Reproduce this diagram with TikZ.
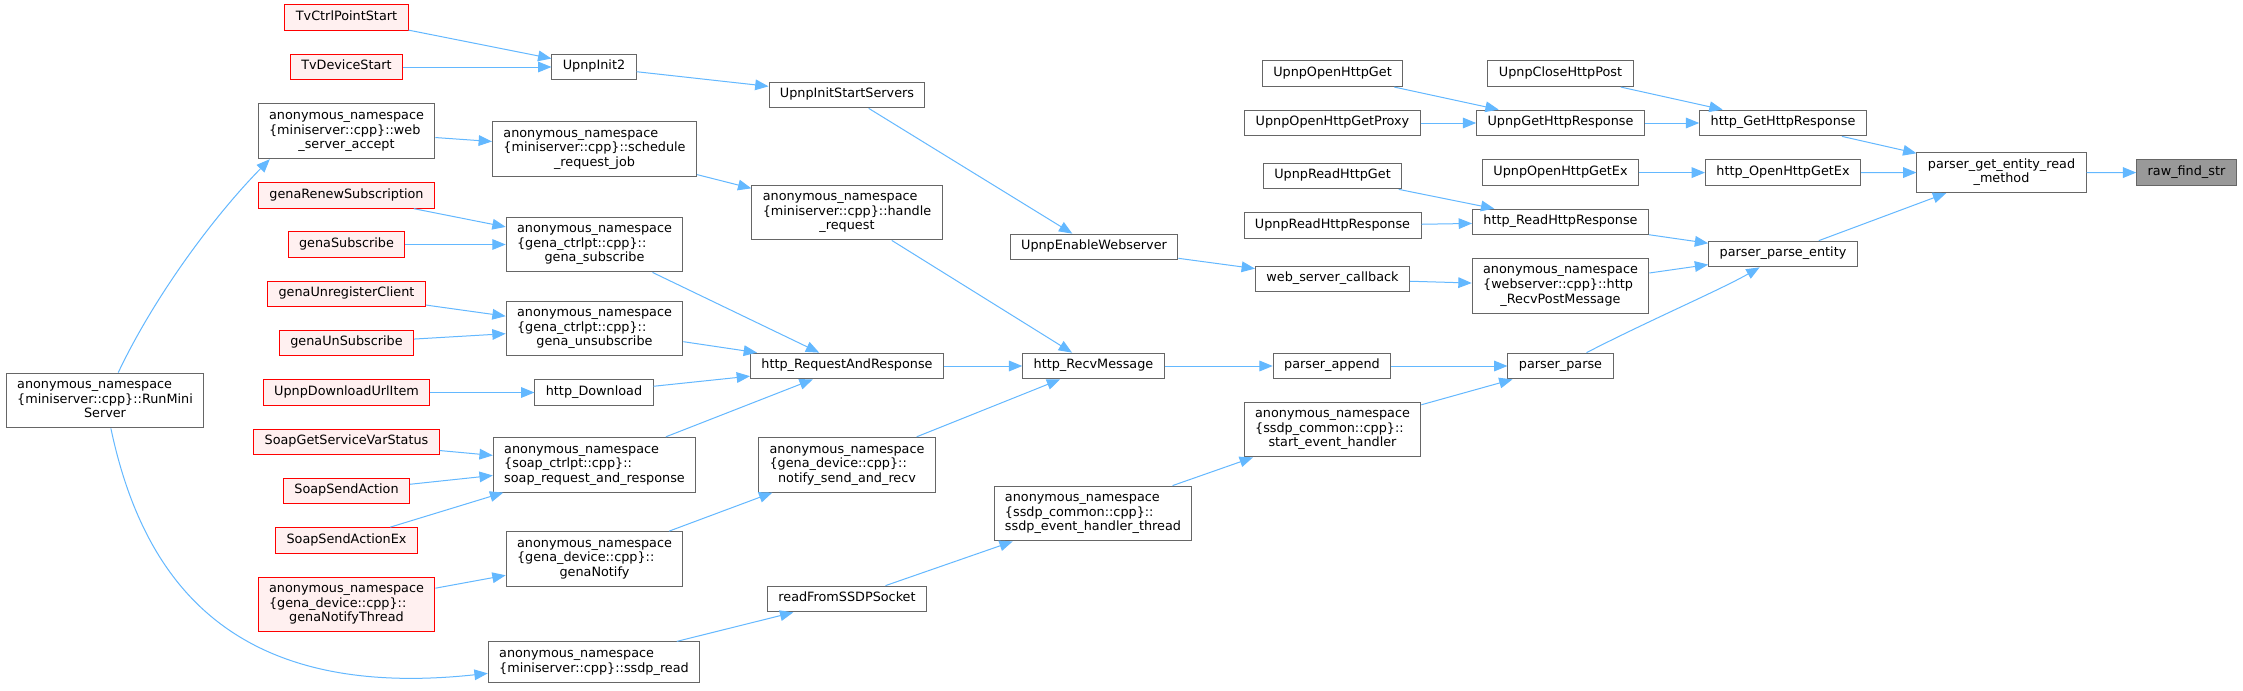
\documentclass[tikz,border=0pt]{standalone}
\usepackage{fontspec}
\setmainfont{DejaVu Sans}
\usetikzlibrary{arrows.meta}
\definecolor{edgeblue}{HTML}{63B8FF}
\definecolor{boxgray}{HTML}{666666}
\definecolor{redfill}{HTML}{FFF0F0}
\definecolor{curfill}{HTML}{999999}
\newcommand{\twolines}[2]{\begin{tabular}{@{}l@{}}#1\\\multicolumn{1}{@{}c@{}}{#2}\end{tabular}}
\newcommand{\threelines}[3]{\begin{tabular}{@{}l@{}}#1\\#2\\\multicolumn{1}{@{}c@{}}{#3}\end{tabular}}
\begin{document}
\begin{tikzpicture}[x=0.75pt,y=-0.75pt,
		fn/.style={draw=boxgray,fill=white,line width=0.75pt,inner xsep=8.2pt,inner ysep=4.2pt,
			font=\fontsize{9.6}{10.9}\selectfont,execute at begin node=\strut},
		fnred/.style={fn,draw=red,fill=redfill},
		fncur/.style={fn,fill=curfill},
		call/.style={draw=edgeblue,line width=0.75pt,-{Triangle[length=10pt,width=8pt]}}]
			\fill[white] (0,0) rectangle (2243,690);
			\useasboundingbox (0,0) rectangle (2243,690);
			\node[fn] (run) at (105,400.5) {\threelines{anonymous\_namespace}{\{miniserver::cpp\}::RunMini}{Server}};
			\node[fnred] (tvcp) at (346.5,17.8) {TvCtrlPointStart};
			\node[fnred] (tvds) at (346.5,67) {TvDeviceStart};
			\node[fn] (wsa) at (346.5,131.3) {\threelines{anonymous\_namespace}{\{miniserver::cpp\}::web}{\_server\_accept}};
			\node[fnred] (grs) at (346.5,195.3) {genaRenewSubscription};
			\node[fnred] (gsub) at (346.5,244.5) {genaSubscribe};
			\node[fnred] (gurc) at (346.5,294) {genaUnregisterClient};
			\node[fnred] (gunsub) at (346.5,343) {genaUnSubscribe};
			\node[fnred] (dlurl) at (346.5,392.5) {UpnpDownloadUrlItem};
			\node[fnred] (sgsvs) at (346.5,442) {SoapGetServiceVarStatus};
			\node[fnred] (ssa) at (346.5,491) {SoapSendAction};
			\node[fnred] (ssaex) at (346.5,540.5) {SoapSendActionEx};
			\node[fnred] (gnthread) at (346.5,604.5) {\threelines{anonymous\_namespace}{\{gena\_device::cpp\}::}{genaNotifyThread}};
			\node[fn] (init2) at (594,67) {UpnpInit2};
			\node[fn] (srj) at (594.5,148.7) {\threelines{anonymous\_namespace}{\{miniserver::cpp\}::schedule}{\_request\_job}};
			\node[fn] (gsubscribe) at (594.5,244.5) {\threelines{anonymous\_namespace}{\{gena\_ctrlpt::cpp\}::}{gena\_subscribe}};
			\node[fn] (gunsubscribe) at (594.5,328.5) {\threelines{anonymous\_namespace}{\{gena\_ctrlpt::cpp\}::}{gena\_unsubscribe}};
			\node[fn] (hdl) at (594,392.5) {http\_Download};
			\node[fn] (sra) at (594.5,464.7) {\threelines{anonymous\_namespace}{\{soap\_ctrlpt::cpp\}::}{soap\_request\_and\_response}};
			\node[fn] (gnotify) at (594.5,559) {\threelines{anonymous\_namespace}{\{gena\_device::cpp\}::}{genaNotify}};
			\node[fn] (sread) at (594,662) {\twolines{anonymous\_namespace}{\{miniserver::cpp\}::ssdp\_read}};
			\node[fn] (iss) at (847,95) {UpnpInitStartServers};
			\node[fn] (hreq) at (847,212.5) {\threelines{anonymous\_namespace}{\{miniserver::cpp\}::handle}{\_request}};
			\node[fn] (hrr) at (847,366) {http\_RequestAndResponse};
			\node[fn] (nsr) at (847,464.7) {\threelines{anonymous\_namespace}{\{gena\_device::cpp\}::}{notify\_send\_and\_recv}};
			\node[fn] (rfs) at (847,599) {readFromSSDPSocket};
			\node[fn] (enws) at (1094,247) {UpnpEnableWebserver};
			\node[fn] (hrm) at (1093.5,366) {http\_RecvMessage};
			\node[fn] (sehth) at (1093,513.5) {\threelines{anonymous\_namespace}{\{ssdp\_common::cpp\}::}{ssdp\_event\_handler\_thread}};
			\node[fn] (ohg) at (1332.5,73.7) {UpnpOpenHttpGet};
			\node[fn] (ohgp) at (1332.5,123) {UpnpOpenHttpGetProxy};
			\node[fn] (rhg) at (1332.5,176) {UpnpReadHttpGet};
			\node[fn] (rhr) at (1332.5,225.7) {UpnpReadHttpResponse};
			\node[fn] (wscb) at (1332.5,279) {web\_server\_callback};
			\node[fn] (pappend) at (1332,366) {parser\_append};
			\node[fn] (seh) at (1332.5,429.5) {\threelines{anonymous\_namespace}{\{ssdp\_common::cpp\}::}{start\_event\_handler}};
			\node[fn] (chp) at (1560.5,73.7) {UpnpCloseHttpPost};
			\node[fn] (ghr) at (1560.5,123) {UpnpGetHttpResponse};
			\node[fn] (ohgex) at (1560.5,172.6) {UpnpOpenHttpGetEx};
			\node[fn] (hreadr) at (1560.5,222) {http\_ReadHttpResponse};
			\node[fn] (rpm) at (1560.5,285.6) {\threelines{anonymous\_namespace}{\{webserver::cpp\}::http}{\_RecvPostMessage}};
			\node[fn] (pparse) at (1560.5,366) {parser\_parse};
			\node[fn] (hghr) at (1783,123) {http\_GetHttpResponse};
			\node[fn] (hohgex) at (1783,172.6) {http\_OpenHttpGetEx};
			\node[fn] (ppe) at (1783,254) {parser\_parse\_entity};
			\node[fn] (pgerm) at (2001.5,172.5) {\twolines{parser\_get\_entity\_read}{\_method}};
			\node[fncur] (rfstr) at (2186.5,172.6) {raw\_find\_str};
			\draw[call] (run) .. controls (155,295) and (215,215) .. (wsa.200);
			\draw[call] (run) .. controls (145,590) and (240,700) .. (sread);
			\draw[call] (tvcp) -- (init2);
			\draw[call] (tvds) -- (init2);
			\draw[call] (wsa) -- (srj);
			\draw[call] (grs) -- (gsubscribe);
			\draw[call] (gsub) -- (gsubscribe);
			\draw[call] (gurc) -- (gunsubscribe);
			\draw[call] (gunsub) -- (gunsubscribe);
			\draw[call] (dlurl) -- (hdl);
			\draw[call] (sgsvs) -- (sra);
			\draw[call] (ssa) -- (sra);
			\draw[call] (ssaex) -- (sra);
			\draw[call] (gnthread) -- (gnotify);
			\draw[call] (init2) -- (iss);
			\draw[call] (srj) -- (hreq);
			\draw[call] (gsubscribe) -- (hrr);
			\draw[call] (gunsubscribe) -- (hrr);
			\draw[call] (hdl) -- (hrr);
			\draw[call] (sra) -- (hrr);
			\draw[call] (gnotify) -- (nsr);
			\draw[call] (sread) -- (rfs);
			\draw[call] (iss) -- (enws);
			\draw[call] (hreq) -- (hrm);
			\draw[call] (hrr) -- (hrm);
			\draw[call] (nsr) -- (hrm);
			\draw[call] (rfs) -- (sehth);
			\draw[call] (enws) -- (wscb);
			\draw[call] (hrm) -- (pappend);
			\draw[call] (sehth) -- (seh);
			\draw[call] (ohg) -- (ghr);
			\draw[call] (ohgp) -- (ghr);
			\draw[call] (rhg) -- (hreadr);
			\draw[call] (rhr) -- (hreadr);
			\draw[call] (wscb) -- (rpm);
			\draw[call] (pappend) -- (pparse);
			\draw[call] (seh) -- (pparse);
			\draw[call] (chp) -- (hghr);
			\draw[call] (ghr) -- (hghr);
			\draw[call] (ohgex) -- (hohgex);
			\draw[call] (hreadr) -- (ppe);
			\draw[call] (rpm) -- (ppe);
			\draw[call] (pparse) .. controls (1650,320) and (1720,290) .. (ppe);
			\draw[call] (hghr) -- (pgerm);
			\draw[call] (hohgex) -- (pgerm);
			\draw[call] (ppe) -- (pgerm);
			\draw[call] (pgerm) -- (rfstr);
		\end{tikzpicture}
\end{document}
